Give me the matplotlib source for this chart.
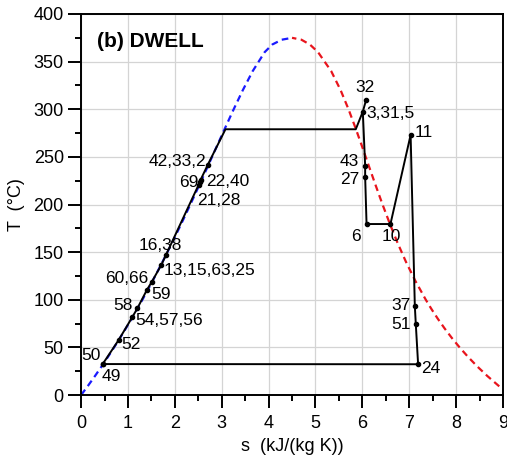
import numpy as np
import matplotlib
matplotlib.use('Agg')
import matplotlib.pyplot as plt
from matplotlib.ticker import MultipleLocator

plt.rcParams['font.family'] = ['Liberation Sans', 'DejaVu Sans']

# saturation dome of water (steam table values, top rounded as drawn)
sat_T = [0.01, 10, 20, 30, 40, 50, 60, 70, 80, 90, 100, 120, 140, 160, 180,
         200, 220, 240, 260, 280, 300, 320, 340, 360, 368, 373, 375]
sat_sf = [0.0, 0.151, 0.2965, 0.4368, 0.5724, 0.7038, 0.8313, 0.9551, 1.0756,
          1.1929, 1.3072, 1.5279, 1.7392, 1.9426, 2.1392, 2.3305, 2.5177,
          2.7020, 2.8849, 3.0685, 3.2552, 3.4494, 3.6601, 3.9167, 4.08, 4.28,
          4.5]
sat_sg = [9.156, 8.900, 8.666, 8.452, 8.256, 8.075, 7.908, 7.754, 7.611,
          7.478, 7.354, 7.129, 6.929, 6.749, 6.585, 6.431, 6.285, 6.142,
          6.001, 5.857, 5.705, 5.537, 5.336, 5.054, 4.88, 4.70, 4.5]

# DWELL cycle path (s in kJ/(kg K), T in C)
cycle_s = [0.46, 0.80, 1.09, 1.20, 1.40, 1.51, 1.71, 1.81, 2.51, 2.53, 2.55,
           2.70, 3.08, 5.86, 6.01, 6.08]
cycle_T = [32.5, 57.7, 81.6, 91, 110, 119, 136.5, 147, 221, 224, 226,
           241.5, 279, 279, 297.5, 309.7]
branch_s = [6.01, 6.06, 6.06, 6.09, 6.60, 7.03, 7.12, 7.14, 7.19, 0.46]
branch_T = [297.5, 240.8, 229.2, 179.5, 179.5, 273, 93.4, 75, 32.3, 32.5]

# labelled state points
pt_labels = ['32', '3,31,5', '11', '43', '27', '6', '10', '37', '51', '24',
             '42,33,2', '69', '22,40', '21,28', '16,38', '13,15,63,25',
             '60,66', '59', '58', '54,57,56', '52', '50', '49']
pt_s = [6.08, 6.01, 7.03, 6.06, 6.06, 6.09, 6.60, 7.12, 7.14, 7.19,
        2.70, 2.53, 2.55, 2.51, 1.81, 1.71, 1.51, 1.40, 1.20, 1.09, 0.80,
        0.46, 0.46]
pt_T = [309.7, 297.5, 273, 240.8, 229.2, 179.5, 179.5, 93.4, 75, 32.3,
        241.5, 224, 226, 221, 147, 136.5, 119, 110, 91, 81.6, 57.7,
        32.5, 32.5]
# label offsets in pixels and alignment
pt_off = [(-1, 13, 'center'), (4, -2, 'left'), (4, 2, 'left'),
          (-6, 4, 'right'), (-6, -3, 'right'), (-11, -12, 'center'),
          (1, -12, 'center'), (-4, 1, 'right'), (-5, -1, 'right'),
          (3, -4, 'left'), (-1, 3, 'right'), (-1, -1, 'right'),
          (5, -2, 'left'), (-2, -16, 'left'), (-27, 9, 'left'),
          (2, -6, 'left'), (-4, 3, 'right'), (5, -4, 'left'),
          (-5, 3, 'right'), (3, -3, 'left'), (3, -4, 'left'),
          (-2, 9, 'right'), (-1, -12, 'left')]

fig = plt.figure(figsize=(5.07, 4.59), dpi=100)
ax = fig.add_axes([0.16, 0.1394, 0.832, 0.8301])

ax.plot(sat_sf, sat_T, color='#1a1aff', ls=(0, (3, 2)), lw=1.6, zorder=2)
ax.plot(sat_sg, sat_T, color='#e8141c', ls=(0, (3, 2)), lw=1.6, zorder=2)

ax.plot(cycle_s, cycle_T, color='black', lw=1.4, zorder=3)
ax.plot(branch_s, branch_T, color='black', lw=1.4, zorder=3)
ax.plot(pt_s, pt_T, 'o', color='black', ms=3, zorder=4)

for lab, s, t, (dx, dy, ha) in zip(pt_labels, pt_s, pt_T, pt_off):
    ax.annotate(lab, (s, t), xytext=(dx, dy), textcoords='offset pixels',
                ha=ha, va='center', fontsize=12.5, zorder=5)

ax.text(0.038, 0.929, '(b) DWELL', transform=ax.transAxes, fontsize=15,
        fontweight='bold', va='center', ha='left')

ax.set_xlim(0, 9)
ax.set_ylim(0, 400)
ax.xaxis.set_major_locator(MultipleLocator(1))
ax.xaxis.set_minor_locator(MultipleLocator(0.5))
ax.yaxis.set_major_locator(MultipleLocator(50))
ax.yaxis.set_minor_locator(MultipleLocator(25))
ax.grid(True, which='major', color='#d4d4d4', lw=0.9)
ax.set_axisbelow(True)
ax.tick_params(which='major', direction='out', length=9.5, width=1.4,
               labelsize=13, pad=3)
ax.tick_params(axis='x', which='major', pad=5)
ax.tick_params(which='minor', direction='out', length=4.5, width=1.4)
for sp in ax.spines.values():
    sp.set_linewidth(1.4)

ax.set_xlabel('s  (kJ/(kg K))', fontsize=13, labelpad=4)
ax.set_ylabel('T  (°C)', fontsize=13, labelpad=6)

fig.savefig('out.png', dpi=100)
